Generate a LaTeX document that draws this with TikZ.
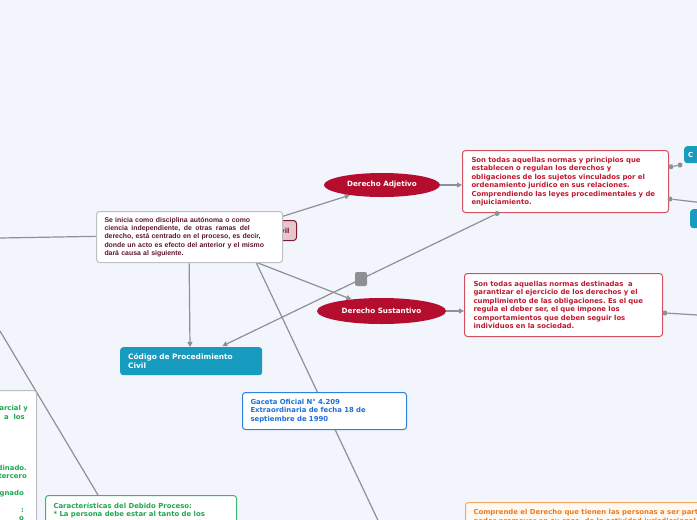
\documentclass[tikz,border=0pt]{standalone}
\usepackage{fontspec}
\setmainfont{DejaVu Sans}
\newfontfamily\arialfont{Liberation Sans}
\usetikzlibrary{arrows.meta,shapes.geometric,calc}
\pgfdeclarelayer{back}
\pgfdeclarelayer{lines}
\pgfsetlayers{back,lines,main}
\frenchspacing
\definecolor{bgc}{HTML}{F3F5FD}
\definecolor{lgray}{HTML}{8D9097}
\definecolor{crim}{HTML}{B50D2E}
\definecolor{redtxt}{HTML}{C0182F}
\definecolor{redbrd}{HTML}{D4505F}
\definecolor{maroon}{HTML}{5E1530}
\definecolor{pinkf}{HTML}{E8C4CB}
\definecolor{pinkb}{HTML}{7A1D36}
\definecolor{tealc}{HTML}{179BBF}
\definecolor{bluebrd}{HTML}{2F7FE0}
\definecolor{bluetxt}{HTML}{1F6FD6}
\definecolor{grn}{HTML}{1DA84F}
\definecolor{grnbrd}{HTML}{3DB56E}
\definecolor{orgbrd}{HTML}{F4A75E}
\definecolor{orgtxt}{HTML}{EC7A1F}
\definecolor{orgfill}{HTML}{FFF9F1}
\definecolor{graybrd}{HTML}{BDBFC6}
\definecolor{sqg}{HTML}{8E8F94}
\newcommand{\wsp}{\hspace{3.6pt}}
\tikzset{
  conn/.style={draw=lgray, line width=1.2pt},
  arr/.style={conn, -{Triangle[length=5pt,width=5pt]}},
  dotn/.style={circle, fill=lgray, inner sep=0pt, minimum size=5pt},
  tf/.style={font=\fontsize{6.9}{8.5}\selectfont\bfseries},
  boxn/.style={rounded corners=3pt, line width=1pt, fill=white, tf, align=left, inner xsep=8pt, inner ysep=0pt},
  rbox/.style={boxn, draw=redbrd, text=redtxt, inner xsep=9pt},
  elln/.style={ellipse, fill=crim, text=white, font=\fontsize{7.2}{8.5}\selectfont\bfseries, inner sep=0pt},
  tealbox/.style={rounded corners=3pt, fill=tealc, text=white, align=left, inner ysep=0pt},
  frag/.style={tf, text=grn, inner sep=0pt, anchor=base east}
}
\begin{document}
\begin{tikzpicture}[x=1pt,y=-1pt]
\useasboundingbox (0,0) rectangle (697,520);
\begin{pgfonlayer}{back}
\fill[bgc] (0,0) rectangle (697,520);
\end{pgfonlayer}

% hidden parent node (only its end is visible) and the text box over it
\node[boxn, draw=pinkb, fill=pinkf, text=pinkb, anchor=north east, minimum height=20pt, text width=74pt, align=right, inner xsep=7pt] (dpc) at (297,220) {vil};
\node[boxn, draw=graybrd, text=maroon, font=\arialfont\fontsize{6.9}{8.3}\selectfont\bfseries, anchor=north west, text width=170pt, minimum height=51pt] (main) at (96,211)
{Se inicia como disciplina autónoma o como\\
ciencia\wsp independiente,\wsp de\wsp otras\wsp ramas\wsp del\\
derecho, está centrado en el proceso, es decir,\\
donde un acto es efecto del anterior y el mismo\\
dará causa al siguiente.};

% ellipses
\node[elln, minimum width=116pt, minimum height=24pt] (adj) at (382,185) {Derecho Adjetivo};
\node[elln, minimum width=129pt, minimum height=26pt] (sus) at (381.5,311) {Derecho Sustantivo};

% red boxes
\node[rbox, anchor=north west, text width=188pt, minimum height=62pt] (rb1) at (462,150)
{Son todas aquellas normas y principios que\\
establecen o regulan los derechos y\\
obligaciones de los sujetos vinculados por el\\
ordenamiento jurídico en sus relaciones.\\
Comprendiendo las leyes procedimentales y de\\
enjuiciamiento.};
\node[rbox, anchor=north west, text width=180pt, minimum height=63pt] (rb2) at (464,273)
{Son todas aquellas normas destinadas\ \ a\\
garantizar el ejercicio de los derechos y el\\
cumplimiento de las obligaciones. Es el que\\
regula el deber ser, el que impone los\\
comportamientos que deben seguir los\\
individuos en la sociedad.};

% teal boxes
\node[tealbox, font=\fontsize{7.4}{8.8}\selectfont\bfseries, anchor=north west, text width=126pt, inner xsep=8pt, minimum height=28pt] (cod) at (120,347)
{Código de Procedimiento\\ Civil};
\node[tealbox, tf, anchor=north west, text width=30pt, inner xsep=4pt, minimum height=17pt] (t1) at (684,146) {C};
\node[tealbox, anchor=north west, minimum width=30pt, minimum height=19pt] (t2) at (690,209) {};

% Gaceta
\node[boxn, draw=bluebrd, text=bluetxt, anchor=north west, text width=148pt, minimum height=37pt] (gac) at (242,392)
{Gaceta Oficial N° 4.209\\
Extraordinaria de fecha 18 de\\
septiembre de 1990};

% left box with partly visible text
\node[boxn, draw=graybrd, anchor=north east, minimum width=80pt, minimum height=150pt] (lbox) at (37,390) {};
\node[frag] (f1) at (28,410.8) {arcial y};
\node[frag] (f2) at (25,419.2) {a\ \ los};
\node[frag] (f3) at (27,470.1) {dinado.};
\node[frag] (f4) at (27,478.5) {tercero};
\node[frag] (f5) at (24,495.4) {gnado};
\node[frag] (f6) at (24,512.3) {:};
\node[frag] (f7) at (24,520.7) {o};

% bottom boxes
\node[boxn, draw=grnbrd, text=grn, anchor=north west, inner ysep=7pt] (car) at (45,495)
{\parbox[t][40pt][t]{175pt}{\raggedright Características del Debido Proceso:\\\relax * La persona debe estar al tanto de los}};
\node[boxn, draw=orgbrd, fill=orgfill, text=orgtxt, anchor=north west, inner ysep=7pt] (org) at (465,502)
{\parbox[t][40pt][t]{260pt}{\raggedright Comprende el Derecho que tienen las personas a ser parte de un\\ poder promover en su caso, de la actividad jurisdiccional}};

% dots and small square
\node[dotn] (d1) at (671,166.7) {};
\node[dotn] (d2) at (680,165) {};
\node[dotn] (d3) at (670,199) {};
\node[dotn] (d4) at (497,213.5) {};
\node[dotn] (d5) at (665,313) {};
\node[fill=sqg, rounded corners=2pt, minimum width=12pt, minimum height=14pt, inner sep=0pt] (gsq) at (361,279) {};

\coordinate (lin1) at (0,238);
\coordinate (lin2) at (0,331);
\coordinate (out1) at (730,206);
\coordinate (out2) at (730,317);
\coordinate (gbot) at (383,531);

\begin{pgfonlayer}{lines}
\draw[conn] (lin1) -- ($(main.north west)+(20,25)$);
\draw[conn] (lin2) -- ($(car.north west)+(53,0)$);
\draw[arr] ($(main.north west)+(164,12.5)$) -- (adj);
\draw[arr] ($(main.north west)+(144,45)$) -- (sus);
\draw[arr] ($(main.north west)+(93,39)$) -- ($(cod.north west)+(70,0)$);
\draw[conn] ($(main.north west)+(150,30)$) -- (gbot);
\draw[arr] (adj) -- (rb1.west |- adj);
\draw[arr] (sus) -- (rb2.west |- sus);
\draw[arr] (d4) -- ($(cod.north east)+(-40,-1)$);
\draw[conn] (d1) -- (d2);
\draw[conn] (d3) -- (out1);
\draw[conn] (d5) -- (out2);
\end{pgfonlayer}
\end{tikzpicture}
\end{document}
